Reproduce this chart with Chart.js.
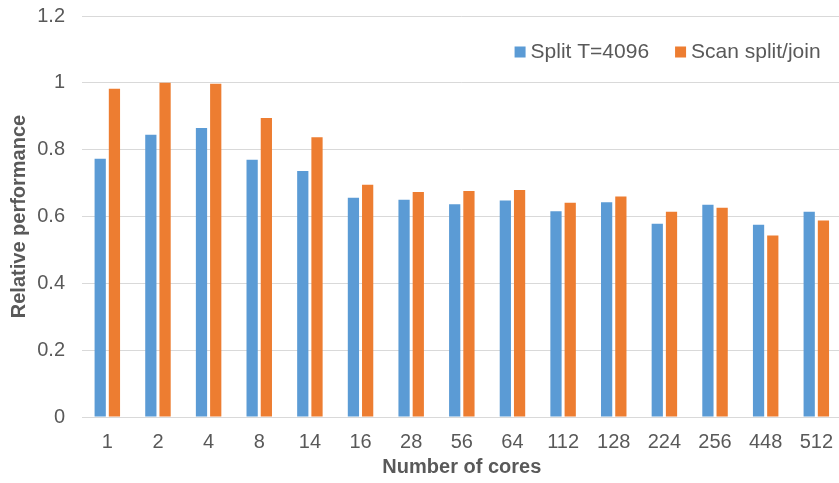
<!DOCTYPE html>
<html>
<head>
<meta charset="utf-8">
<script src="https://cdn.jsdelivr.net/npm/chart.js@4/dist/chart.umd.min.js"></script>
<style>
  body { margin: 0; background: #fff; overflow: hidden; }
  #boite { width: 846px; height: 483px; }
</style>
</head>
<body>
<div id="boite"><canvas id="graphique-coeurs"></canvas></div>
<script>
// nombre de coeurs testes
const coeurs = ["1", "2", "4", "8", "14", "16", "28", "56", "64", "112", "128", "224", "256", "448", "512"];
// performance relative par version
const splitT4096 = [0.773, 0.845, 0.865, 0.770, 0.736, 0.656, 0.650, 0.637, 0.648, 0.616, 0.643, 0.578, 0.635, 0.575, 0.614];
const scanSplitJoin = [0.982, 1.0, 0.997, 0.895, 0.837, 0.695, 0.673, 0.676, 0.679, 0.641, 0.660, 0.614, 0.626, 0.543, 0.588];
const graduationsY = [0, 0.2, 0.4, 0.6, 0.8, 1, 1.2];

const gris = "#595959";
const police = "'Liberation Sans', Arial, sans-serif";

// legende dessinee dans le coin haut droit de la zone du graphique
const legendeInterne = {
    id: "legendeInterne",
    afterDraw(chart) {
        const ctx = chart.ctx;
        const zone = chart.chartArea;
        const taille = 11, ecart = 5, espace = 26;
        ctx.save();
        ctx.font = "21px " + police;
        ctx.textBaseline = "middle";
        const items = chart.data.datasets.map(d => ({ texte: d.label, couleur: d.backgroundColor, l: ctx.measureText(d.label).width }));
        let total = 0;
        items.forEach((it, i) => { total += taille + ecart + it.l + (i > 0 ? espace : 0); });
        let x = zone.right - 21 - total;
        const y = zone.top + 36;
        items.forEach(it => {
            ctx.fillStyle = it.couleur;
            ctx.fillRect(x, y - taille / 2, taille, taille);
            x += taille + ecart;
            ctx.fillStyle = gris;
            ctx.fillText(it.texte, x, y);
            x += it.l + espace;
        });
        ctx.restore();
    }
};

const data = {
    labels: coeurs,
    datasets: [
        {
            label: "Split T=4096",
            data: splitT4096,
            backgroundColor: "#5B9BD5",
            categoryPercentage: 0.562,
            barPercentage: 0.79
        },
        {
            label: "Scan split/join",
            data: scanSplitJoin,
            backgroundColor: "#ED7D31",
            categoryPercentage: 0.562,
            barPercentage: 0.79
        }
    ]
};

const config = {
    type: "bar",
    data: data,
    options: {
        responsive: true,
        maintainAspectRatio: false,
        animation: false,
        layout: { padding: { left: 3, top: 0, right: 0, bottom: 0 } },
        plugins: {
            legend: { display: false },
            tooltip: { enabled: false }
        },
        scales: {
            x: {
                grid: { display: false, drawTicks: false },
                border: { color: "#d9d9d9", width: 1 },
                ticks: { color: gris, font: { family: police, size: 20 }, padding: 13, maxRotation: 0 },
                title: { display: true, text: "Number of cores", color: gris, font: { family: police, size: 20, weight: "bold" }, padding: { top: 4, bottom: 4 } },
                afterFit: axe => { axe.height = 66; }
            },
            y: {
                min: 0,
                max: 1.2,
                afterBuildTicks: axe => { axe.ticks = graduationsY.map(v => ({ value: v })); },
                grid: { color: "#d9d9d9", lineWidth: 1, drawTicks: false },
                border: { display: false },
                ticks: { color: gris, font: { family: police, size: 20 }, padding: 17, callback: v => String(Math.round(v * 10) / 10) },
                title: { display: true, text: "Relative performance", color: gris, font: { family: police, size: 20, weight: "bold" }, padding: { top: 4, bottom: 4 } },
                afterFit: axe => {
                    axe.width = 79;
                    axe.paddingTop = 16;
                    axe.paddingBottom = 0;
                }
            }
        }
    },
    plugins: [legendeInterne]
};

// Rendu graphique dans l'elt canvas
const graphique = new Chart(document.querySelector("#graphique-coeurs"), config);
</script>
</body>
</html>
